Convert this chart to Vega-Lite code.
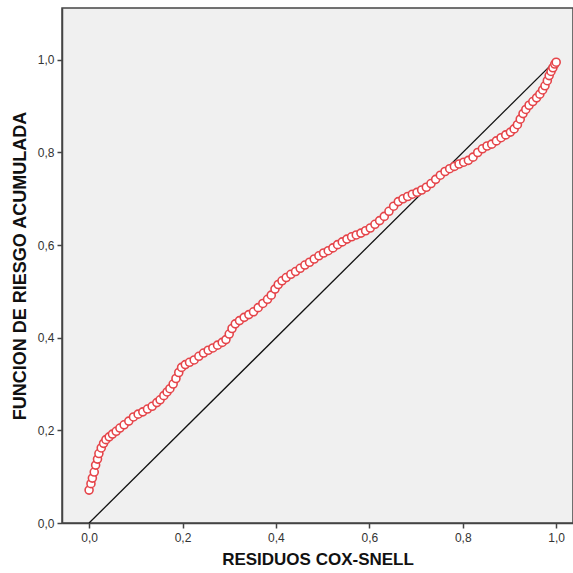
{
  "$schema": "https://vega.github.io/schema/vega-lite/v6.json",
  "width": 511,
  "height": 515,
  "autosize": {"type": "none"},
  "padding": {"left": 62, "top": 8, "right": 0, "bottom": 50},
  "background": "white",
  "config": {
    "view": {"fill": "#f0f0f0", "stroke": "#444444", "strokeWidth": 1.5},
    "font": "Liberation Sans",
    "axis": {
      "grid": false,
      "domainColor": "#444444",
      "domainWidth": 1.5,
      "tickColor": "#444444",
      "tickWidth": 1.5,
      "tickSize": 5,
      "labelFont": "Liberation Sans",
      "labelFontSize": 12,
      "labelColor": "#333333",
      "titleFont": "Liberation Sans",
      "titleFontWeight": "bold",
      "titleColor": "#111111"
    }
  },
  "datasets": {
    "pts": [
      {"r": 0.000, "h": 0.071}, {"r": 0.004, "h": 0.085}, {"r": 0.007, "h": 0.097}, {"r": 0.011, "h": 0.110},
      {"r": 0.014, "h": 0.125}, {"r": 0.018, "h": 0.138}, {"r": 0.021, "h": 0.150}, {"r": 0.026, "h": 0.162},
      {"r": 0.031, "h": 0.172}, {"r": 0.036, "h": 0.180}, {"r": 0.043, "h": 0.186}, {"r": 0.050, "h": 0.192},
      {"r": 0.058, "h": 0.198}, {"r": 0.066, "h": 0.205}, {"r": 0.075, "h": 0.212}, {"r": 0.085, "h": 0.220},
      {"r": 0.095, "h": 0.229}, {"r": 0.105, "h": 0.235}, {"r": 0.115, "h": 0.240}, {"r": 0.125, "h": 0.246},
      {"r": 0.135, "h": 0.252}, {"r": 0.145, "h": 0.260}, {"r": 0.152, "h": 0.266}, {"r": 0.160, "h": 0.275},
      {"r": 0.167, "h": 0.283}, {"r": 0.173, "h": 0.290}, {"r": 0.180, "h": 0.300}, {"r": 0.186, "h": 0.312},
      {"r": 0.192, "h": 0.325}, {"r": 0.198, "h": 0.336}, {"r": 0.206, "h": 0.342}, {"r": 0.215, "h": 0.347},
      {"r": 0.225, "h": 0.352}, {"r": 0.235, "h": 0.360}, {"r": 0.245, "h": 0.367}, {"r": 0.255, "h": 0.373},
      {"r": 0.265, "h": 0.378}, {"r": 0.275, "h": 0.384}, {"r": 0.285, "h": 0.390}, {"r": 0.293, "h": 0.396},
      {"r": 0.300, "h": 0.408}, {"r": 0.306, "h": 0.420}, {"r": 0.313, "h": 0.430}, {"r": 0.322, "h": 0.437},
      {"r": 0.332, "h": 0.444}, {"r": 0.342, "h": 0.450}, {"r": 0.352, "h": 0.456}, {"r": 0.362, "h": 0.465},
      {"r": 0.372, "h": 0.474}, {"r": 0.382, "h": 0.483}, {"r": 0.390, "h": 0.492}, {"r": 0.398, "h": 0.505},
      {"r": 0.405, "h": 0.515}, {"r": 0.413, "h": 0.523}, {"r": 0.422, "h": 0.530}, {"r": 0.432, "h": 0.537},
      {"r": 0.442, "h": 0.543}, {"r": 0.452, "h": 0.550}, {"r": 0.462, "h": 0.557}, {"r": 0.472, "h": 0.563},
      {"r": 0.482, "h": 0.570}, {"r": 0.492, "h": 0.577}, {"r": 0.502, "h": 0.583}, {"r": 0.512, "h": 0.588},
      {"r": 0.522, "h": 0.594}, {"r": 0.532, "h": 0.601}, {"r": 0.542, "h": 0.607}, {"r": 0.552, "h": 0.613},
      {"r": 0.562, "h": 0.618}, {"r": 0.572, "h": 0.622}, {"r": 0.582, "h": 0.626}, {"r": 0.592, "h": 0.631},
      {"r": 0.602, "h": 0.637}, {"r": 0.612, "h": 0.645}, {"r": 0.622, "h": 0.653}, {"r": 0.632, "h": 0.662},
      {"r": 0.642, "h": 0.673}, {"r": 0.652, "h": 0.684}, {"r": 0.662, "h": 0.694}, {"r": 0.672, "h": 0.700},
      {"r": 0.682, "h": 0.705}, {"r": 0.692, "h": 0.710}, {"r": 0.702, "h": 0.714}, {"r": 0.712, "h": 0.719},
      {"r": 0.722, "h": 0.725}, {"r": 0.732, "h": 0.733}, {"r": 0.742, "h": 0.742}, {"r": 0.752, "h": 0.751},
      {"r": 0.762, "h": 0.759}, {"r": 0.772, "h": 0.765}, {"r": 0.782, "h": 0.770}, {"r": 0.792, "h": 0.775},
      {"r": 0.802, "h": 0.779}, {"r": 0.812, "h": 0.783}, {"r": 0.822, "h": 0.790}, {"r": 0.832, "h": 0.800},
      {"r": 0.842, "h": 0.808}, {"r": 0.852, "h": 0.814}, {"r": 0.862, "h": 0.818}, {"r": 0.872, "h": 0.825},
      {"r": 0.882, "h": 0.832}, {"r": 0.892, "h": 0.838}, {"r": 0.902, "h": 0.844}, {"r": 0.910, "h": 0.851},
      {"r": 0.917, "h": 0.860}, {"r": 0.923, "h": 0.872}, {"r": 0.929, "h": 0.884}, {"r": 0.935, "h": 0.893},
      {"r": 0.942, "h": 0.902}, {"r": 0.950, "h": 0.910}, {"r": 0.958, "h": 0.918}, {"r": 0.965, "h": 0.926},
      {"r": 0.971, "h": 0.935}, {"r": 0.976, "h": 0.944}, {"r": 0.981, "h": 0.955}, {"r": 0.985, "h": 0.966},
      {"r": 0.989, "h": 0.975}, {"r": 0.993, "h": 0.983}, {"r": 0.997, "h": 0.991}, {"r": 1.000, "h": 0.995}
    ],
    "diag": [
      {"r": 0, "h": 0},
      {"r": 1, "h": 1}
    ]
  },
  "layer": [
    {
      "data": {"name": "diag"},
      "mark": {"type": "line", "color": "#111111", "strokeWidth": 1.3, "clip": true},
      "encoding": {
        "x": {"field": "r", "type": "quantitative"},
        "y": {"field": "h", "type": "quantitative"}
      }
    },
    {
      "data": {"name": "pts"},
      "mark": {"type": "point", "shape": "circle", "filled": false, "fill": "white", "fillOpacity": 1, "stroke": "#e5454a", "strokeWidth": 1.6, "size": 64, "opacity": 1},
      "encoding": {
        "x": {
          "field": "r", "type": "quantitative",
          "scale": {"domain": [-0.058, 1.036], "nice": false, "zero": false},
          "axis": {"values": [0, 0.2, 0.4, 0.6, 0.8, 1.0], "labelExpr": "replace(format(datum.value, '.1f'), '.', ',')", "title": "RESIDUOS COX-SNELL", "titleFontSize": 17, "titlePadding": 8, "labelPadding": 4}
        },
        "y": {
          "field": "h", "type": "quantitative",
          "scale": {"domain": [0, 1.112], "nice": false, "zero": false},
          "axis": {"values": [0, 0.2, 0.4, 0.6, 0.8, 1.0], "labelExpr": "replace(format(datum.value, '.1f'), '.', ',')", "title": "FUNCION DE RIESGO ACUMULADA", "titleFontSize": 18, "titlePadding": 8, "labelPadding": 3}
        }
      }
    }
  ]
}
